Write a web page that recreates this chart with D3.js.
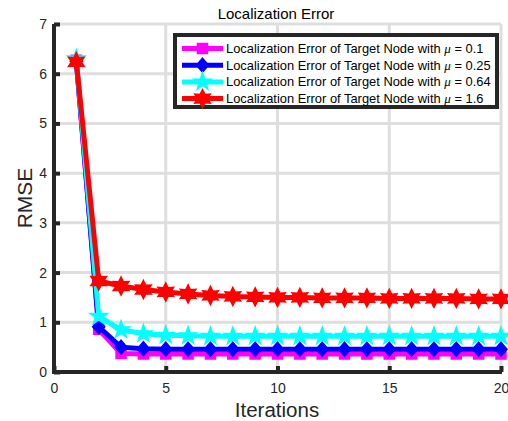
<!DOCTYPE html>
<html>
<head>
<meta charset="utf-8">
<script src="https://cdn.jsdelivr.net/npm/d3@7"></script>
<style>
  html, body { margin: 0; padding: 0; background: #fff; }
  svg { display: block; font-family: "Liberation Sans", Arial, Helvetica, sans-serif; }
</style>
</head>
<body>
<svg id="chart" width="508" height="421"></svg>
<script>
// Iteration index
const iterations = d3.range(1, 21);

// RMSE per iteration for each value of mu
const mu = ["0.1", "0.25", "0.64", "1.6"];
const rmseMu01  = [6.27, 0.86, 0.37, 0.36, 0.36, 0.36, 0.36, 0.36, 0.36, 0.36, 0.36, 0.36, 0.36, 0.36, 0.36, 0.36, 0.36, 0.36, 0.36, 0.36];
const rmseMu025 = [6.25, 0.91, 0.50, 0.47, 0.46, 0.46, 0.46, 0.46, 0.46, 0.46, 0.46, 0.46, 0.46, 0.46, 0.46, 0.46, 0.46, 0.46, 0.46, 0.46];
const rmseMu064 = [6.30, 1.12, 0.85, 0.77, 0.74, 0.73, 0.72, 0.72, 0.72, 0.72, 0.72, 0.72, 0.72, 0.72, 0.72, 0.72, 0.72, 0.72, 0.72, 0.72];
const rmseMu16  = [6.24, 1.83, 1.73, 1.66, 1.61, 1.57, 1.54, 1.52, 1.51, 1.50, 1.50, 1.49, 1.49, 1.49, 1.48, 1.48, 1.48, 1.48, 1.47, 1.47];

const xTicks = [0, 5, 10, 15, 20];
const yTicks = [0, 1, 2, 3, 4, 5, 6, 7];

const series = [
  { mu: mu[0], values: rmseMu01,  color: "#ff00ff", marker: "square" },
  { mu: mu[1], values: rmseMu025, color: "#0000ff", marker: "diamond" },
  { mu: mu[2], values: rmseMu064, color: "#00ffff", marker: "pentagram" },
  { mu: mu[3], values: rmseMu16,  color: "#ff0000", marker: "hexagram" }
];

const svg = d3.select("#chart");
const plotLeft = 54, plotRight = 501, plotTop = 24, plotBottom = 372;
const x = d3.scaleLinear().domain([0, 20]).range([plotLeft, plotRight]);
const y = d3.scaleLinear().domain([0, 7]).range([plotBottom, plotTop]);
const axisColor = "#262626";

// Grid
const grid = svg.append("g");
grid.selectAll("line.h").data(yTicks.slice(1)).join("line")
  .attr("x1", plotLeft).attr("x2", plotRight)
  .attr("y1", d => y(d)).attr("y2", d => y(d))
  .attr("stroke", "#dedede").attr("stroke-width", 3);
grid.selectAll("line.v").data(xTicks.slice(1)).join("line")
  .attr("y1", plotTop).attr("y2", plotBottom)
  .attr("x1", d => x(d)).attr("x2", d => x(d))
  .attr("stroke", "#dedede").attr("stroke-width", 3);

// Marker shapes
function markerPath(type) {
  if (type === "square") return "M-5,-5H5V5H-5Z";
  if (type === "diamond") return "M0,-7L6,0L0,7L-6,0Z";
  if (type === "pentagram") {
    const pts = [];
    for (let i = 0; i < 10; i++) {
      const r = i % 2 === 0 ? 9 : 3.6;
      const a = -Math.PI / 2 + i * Math.PI / 5;
      pts.push([r * Math.cos(a), r * Math.sin(a)]);
    }
    return "M" + pts.map(p => p.join(",")).join("L") + "Z";
  }
  // hexagram
  const pts = [];
  for (let i = 0; i < 12; i++) {
    const r = i % 2 === 0 ? 9 : 4.8;
    const a = -Math.PI / 2 + i * Math.PI / 6;
    pts.push([r * Math.cos(a), r * Math.sin(a)]);
  }
  return "M" + pts.map(p => p.join(",")).join("L") + "Z";
}

const line = d3.line().x((d, i) => x(iterations[i])).y(d => y(d));

const plot = svg.append("g");
series.forEach(s => {
  const g = plot.append("g");
  g.append("path").datum(s.values)
    .attr("d", line).attr("fill", "none")
    .attr("stroke", s.color).attr("stroke-width", 5)
    .attr("stroke-linejoin", "round");
  g.selectAll("path.m").data(s.values).join("path")
    .attr("class", "m")
    .attr("transform", (d, i) => `translate(${x(iterations[i])},${y(d)})`)
    .attr("d", markerPath(s.marker))
    .attr("fill", s.color).attr("stroke", s.color).attr("stroke-width", 1.5)
    .attr("stroke-linejoin", "miter");
});

// Axes
const xAxis = d3.axisBottom(x).tickValues(xTicks).tickFormat(d3.format("d"))
  .tickSize(-6).tickPadding(11);
const yAxis = d3.axisLeft(y).tickValues(yTicks).tickFormat(d3.format("d"))
  .tickSize(-6).tickPadding(7);

const gx = svg.append("g").attr("transform", `translate(0,${plotBottom})`).call(xAxis);
const gy = svg.append("g").attr("transform", `translate(${plotLeft},0)`).call(yAxis);
[gx, gy].forEach(g => {
  g.select(".domain").attr("stroke", axisColor).attr("stroke-width", 4);
  g.selectAll(".tick line").attr("stroke", axisColor).attr("stroke-width", 4);
  g.selectAll(".tick text").attr("fill", axisColor)
    .style("font-size", "14px").style("font-family", "Liberation Sans, Arial, sans-serif");
});
gx.select(".domain").attr("d", `M${plotLeft - 2},0H${plotRight + 1}`);
gy.select(".domain").attr("d", `M0,${plotBottom + 2}V${plotTop}`);

// Title and axis labels
svg.append("text").attr("x", 276).attr("y", 19)
  .attr("text-anchor", "middle").style("font-size", "15px").attr("fill", "#000")
  .text("Localization Error");
svg.append("text").attr("x", 277).attr("y", 416.5)
  .attr("text-anchor", "middle").style("font-size", "20.5px").attr("fill", axisColor)
  .text("Iterations");
svg.append("text")
  .attr("transform", `translate(31.5,198) rotate(-90)`)
  .attr("text-anchor", "middle").style("font-size", "21px").attr("fill", axisColor)
  .text("RMSE");

// Legend
const legend = svg.append("g");
legend.append("rect").attr("x", 175).attr("y", 35).attr("width", 322).attr("height", 72)
  .attr("fill", "#fff").attr("stroke", axisColor).attr("stroke-width", 4);
series.forEach((s, i) => {
  const ly = 48.5 + i * 16.7;
  legend.append("line").attr("x1", 182).attr("x2", 223).attr("y1", ly).attr("y2", ly)
    .attr("stroke", s.color).attr("stroke-width", 5);
  legend.append("path").attr("transform", `translate(202.5,${ly})`)
    .attr("d", markerPath(s.marker))
    .attr("fill", s.color).attr("stroke", s.color).attr("stroke-width", 1.5);
  const t = legend.append("text").attr("x", 226).attr("y", ly + 4.5)
    .style("font-size", "12.9px").attr("fill", "#000");
  t.append("tspan").text("Localization Error of Target Node with ");
  t.append("tspan").style("font-family", "Liberation Serif, Times New Roman, serif")
    .style("font-style", "italic").style("font-size", "13px").text("\u03bc");
  t.append("tspan").text(" = " + s.mu);
});
</script>
</body>
</html>
